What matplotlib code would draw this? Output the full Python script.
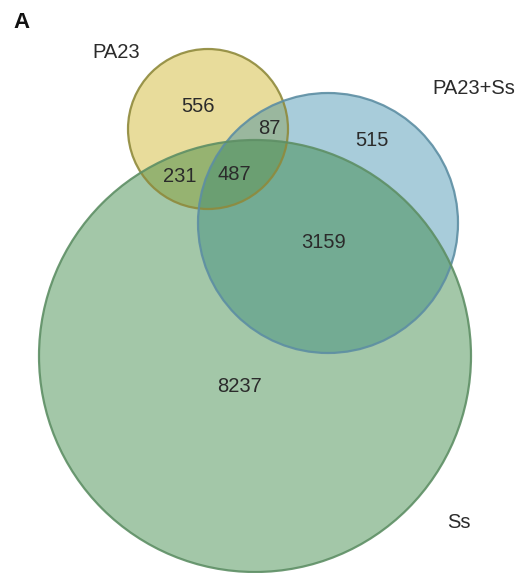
import matplotlib.pyplot as plt
from matplotlib.patches import Circle

# 数据：集合名称和各区域的基因数
set_names = ['PA23', 'PA23+Ss', 'Ss']
region_labels = ['PA23 only', 'PA23&PA23+Ss', 'PA23+Ss only', 'PA23&Ss', 'all', 'PA23+Ss&Ss', 'Ss only']
region_counts = [556, 87, 515, 231, 487, 3159, 8237]

# 布局（像素坐标，y 向下）
circle_xy = [(208, 129), (328, 223), (255, 356)]
circle_r = [80, 130, 216]
face_colors = ['#e8dc9b', '#2680a3', '#33833e']
face_alpha = [1.0, 0.4, 0.45]
edge_colors = ['#8f8a3c', '#5d8ea3', '#5e8f65']
draw_order = [0, 1, 2]

name_xy = [(116, 52), (474, 89), (459, 522)]
count_xy = [(198, 106), (269, 129), (372, 141), (180, 177), (234, 175), (324, 243), (240, 386)]

plt.rcParams['font.family'] = ['Liberation Sans', 'DejaVu Sans']

fig = plt.figure(figsize=(5.25, 5.73), dpi=100)
ax = fig.add_axes([0, 0, 1, 1])
ax.set_xlim(0, 525)
ax.set_ylim(573, 0)
ax.set_aspect('equal')
ax.axis('off')

for i in draw_order:
    ax.add_patch(Circle(circle_xy[i], circle_r[i], facecolor=face_colors[i],
                        edgecolor='none', alpha=face_alpha[i]))
for i in draw_order:
    ax.add_patch(Circle(circle_xy[i], circle_r[i], facecolor='none',
                        edgecolor=edge_colors[i], lw=1.6, alpha=0.9))

for name, (x, y) in zip(set_names, name_xy):
    ax.text(x, y, name, ha='center', va='center', fontsize=14.5, color='#2b2b2b')

for n, (x, y) in zip(region_counts, count_xy):
    ax.text(x, y, str(n), ha='center', va='center', fontsize=14.5, color='#2b2b2b')

ax.text(22, 23, 'A', ha='center', va='center', fontsize=16, fontweight='bold', color='#111111')

fig.savefig('out.png', dpi=100)
